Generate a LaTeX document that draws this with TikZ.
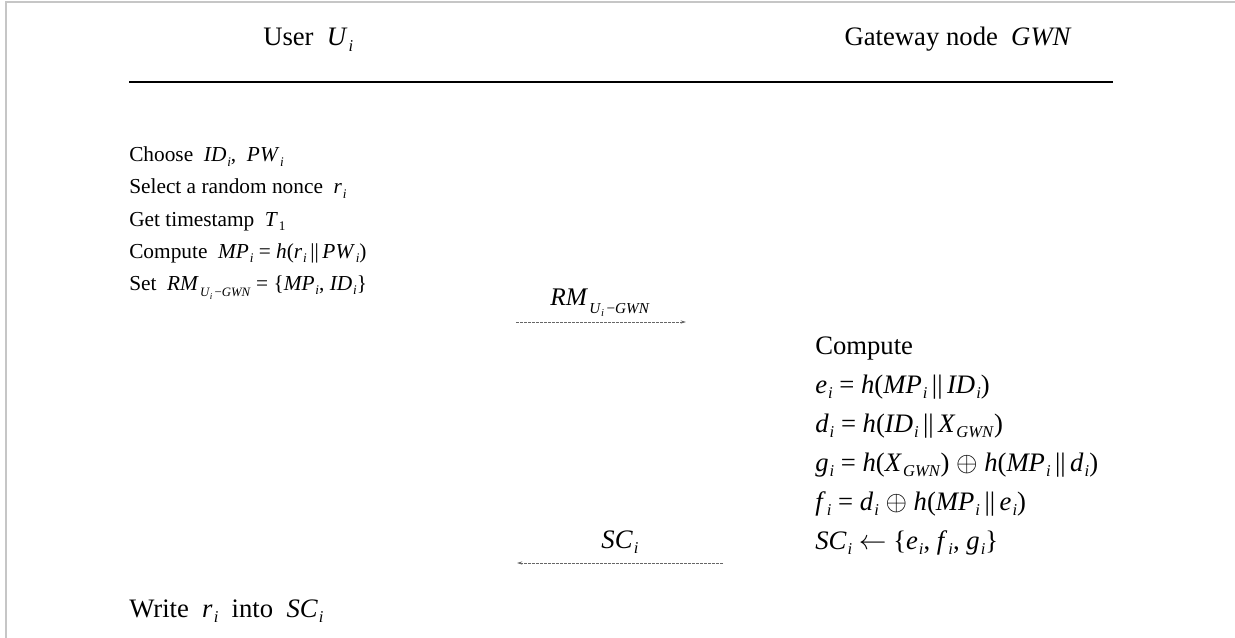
\documentclass[tikz,border=0pt]{standalone}
\usepackage{fontspec}
\setmainfont{Liberation Serif}
\usetikzlibrary{arrows.meta}

% italic variable with an italic, lowered subscript
\newcommand{\vs}[2]{\textit{#1}\kern0.04em\raisebox{-0.45ex}{\scalebox{0.62}{\textit{#2}}}}
% variable with an upright subscript
\newcommand{\vu}[2]{\textit{#1}\kern0.04em\raisebox{-0.45ex}{\scalebox{0.62}{#2}}}
% RM_{U_i - GWN}
\newcommand{\rmug}{\textit{RM}\kern0.05em\raisebox{-0.7ex}{\scalebox{0.6}{\textit{U}\raisebox{-0.5ex}{\scalebox{0.7}{\textit{i}}}\,−\textit{GWN}}}}
\newcommand{\cat}{\,||\,}

\begin{document}
\begin{tikzpicture}[x=0.75pt,y=-0.75pt,
  txt/.style={inner sep=0pt, anchor=base west, font=\fontsize{16}{19}\selectfont},
  big/.style={txt, font=\fontsize{20}{24}\selectfont},
  msg/.style={draw=gray!80!black, line width=0.6pt, dash pattern=on 2.5pt off 0.5pt,
              -{Stealth[length=4pt,width=2.4pt]}}]
\useasboundingbox (0,0) rectangle (1235,638);

% page frame
\draw[gray!45, line width=1.5pt] (5.5,638) -- (5.5,2.5) -- (1235,2.5);

% parties
\node[big] (user) at (263,46) {User\hspace{0.5em}\vs{U}{i}};
\node[big, anchor=base east] (gwn) at (1072,46) {Gateway node\hspace{0.5em}\textit{GWN}};
\coordinate (ruleL) at (129,82);
\coordinate (ruleR) at (1113,82);
\draw[line width=1.5pt] (ruleL) -- (ruleR);

% user side
\node[txt] (u1) at (129,162) {Choose\hspace{0.5em}\vs{ID}{i},\hspace{0.5em}\vs{PW}{i}};
\node[txt] (u2) at (129,194) {Select a random nonce\hspace{0.5em}\vs{r}{i}};
\node[txt] (u3) at (129,226) {Get timestamp\hspace{0.5em}\vu{T}{1}};
\node[txt] (u4) at (129,258) {Compute\hspace{0.5em}\vs{MP}{i} = \textit{h}(\vs{r}{i}\cat\vs{PW}{i})};
\node[txt] (u5) at (129,290) {Set\hspace{0.5em}\rmug{} = \{\vs{MP}{i}, \vs{ID}{i}\}};
\node[big] (u6) at (129,617) {Write\hspace{0.5em}\vs{r}{i}\hspace{0.5em}into\hspace{0.5em}\vs{SC}{i}};

% registration request
\coordinate (m1s) at (516,322);
\coordinate (m1e) at (686,322);
\draw[msg] (m1s) -- (m1e);
\node[big, anchor=base, font=\fontsize{19}{23}\selectfont] (m1) at (600,305) {\rmug};

% gateway side
\node[big] (g0) at (815,354) {Compute};
\node[big] (g1) at (815,393) {\vs{e}{i} = \textit{h}(\vs{MP}{i}\cat\vs{ID}{i})};
\node[big] (g2) at (815,432) {\vs{d}{i} = \textit{h}(\vs{ID}{i}\cat\vs{X}{GWN})};
\node[big] (g3) at (815,471) {\vs{g}{i} = \textit{h}(\vs{X}{GWN}) $\oplus$ \textit{h}(\vs{MP}{i}\cat\vs{d}{i})};
\node[big] (g4) at (815,510) {\vs{f}{i} = \vs{d}{i} $\oplus$ \textit{h}(\vs{MP}{i}\cat\vs{e}{i})};
\node[big] (g5) at (815,549) {\vs{SC}{i} $\leftarrow$ \{\vs{e}{i}, \vs{f}{i}, \vs{g}{i}\}};

% smart card issued
\coordinate (m2s) at (723,563);
\coordinate (m2e) at (517,563);
\draw[msg] (m2s) -- (m2e);
\node[big, anchor=base] (m2) at (620,548) {\vs{SC}{i}};
\end{tikzpicture}
\end{document}
